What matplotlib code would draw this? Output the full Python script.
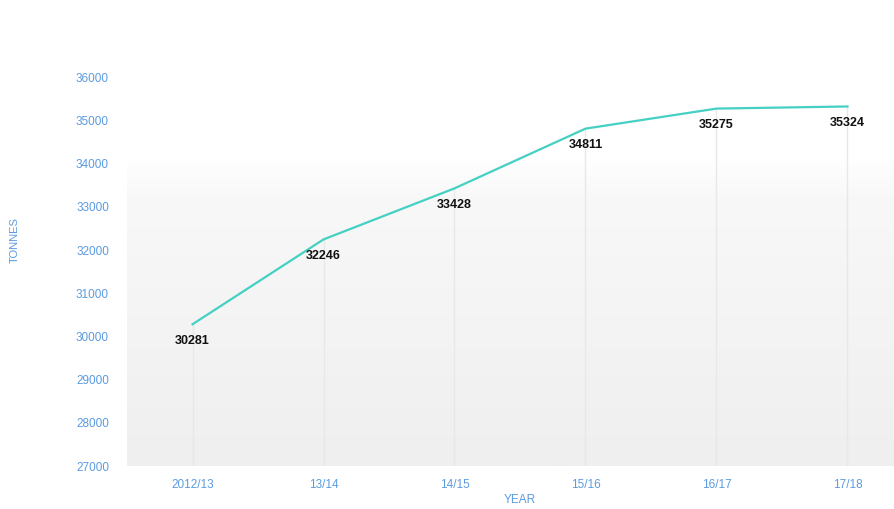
import matplotlib
matplotlib.use("Agg")
import matplotlib.pyplot as plt
import numpy as np
from matplotlib.colors import LinearSegmentedColormap

plt.rcParams['font.family'] = ['Liberation Sans', 'DejaVu Sans']

years = ["2012/13", "13/14", "14/15", "15/16", "16/17", "17/18"]
tonnes = [30281, 32246, 33428, 34811, 35275, 35324]
yticks = [27000, 28000, 29000, 30000, 31000, 32000, 33000, 34000, 35000, 36000]

blue = "#5b9be0"
fig = plt.figure(figsize=(8.94, 5.09), dpi=100)
ax = fig.add_axes([127/894, 43/509, 786/894, 406/509])
ax.set_xlim(-0.5, 5.5)
ax.set_ylim(27000, 36400)

# gradient background
grad = np.linspace(0, 1, 256).reshape(-1, 1)
cmap = LinearSegmentedColormap.from_list("bg", [(0, "#efefef"), (0.66, "#f8f8f8"), (0.76, "#ffffff"), (1, "#ffffff")])
ax.imshow(grad, extent=[-0.5, 5.5, 27000, 36400], aspect="auto", origin="lower", cmap=cmap, zorder=0)

x = np.arange(len(years))
ax.vlines(x, 27000, tonnes, color="#e8e8e8", lw=1, zorder=1)
ax.plot(x, tonnes, color="#45d0c4", lw=1.6, zorder=3)
for xi, v in zip(x, tonnes):
    ax.annotate(str(v), (xi, v), xytext=(0, -12), textcoords="offset points",
                ha="center", va="center", fontsize=9, fontweight="bold", color="#111111", zorder=4)

ax.set_xticks(x)
ax.set_xticklabels(years)
ax.set_yticks(yticks)
ax.tick_params(axis="both", length=0, colors=blue, labelsize=8.5)
ax.tick_params(axis="y", pad=13)
ax.tick_params(axis="x", pad=9)
for s in ax.spines.values():
    s.set_visible(False)

fig.text(520/894, 1 - 500/509, "YEAR", ha="center", va="center", color=blue, fontsize=8.5)
fig.text(15/894, 1 - 240/509, "TONNES", ha="center", va="center", rotation=90, color=blue, fontsize=8)

fig.savefig("out.png", dpi=100)
